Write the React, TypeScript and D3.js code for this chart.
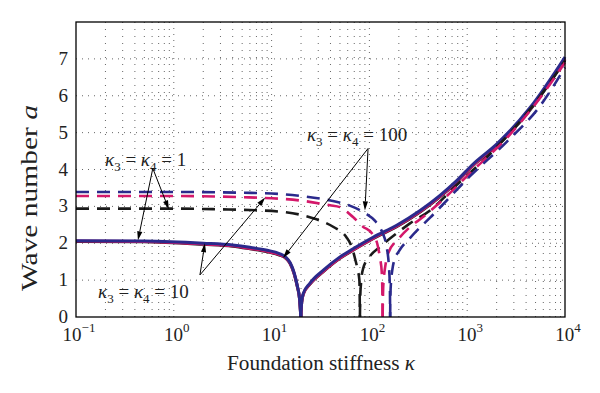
import * as d3 from "d3";

// x ticks (powers of ten) and y ticks
const xTickExps = [-1, 0, 1, 2, 3, 4];
const yTicks = [0, 1, 2, 3, 4, 5, 6, 7];

// solid curves (left branch ends at the cusp, right branch starts there)
const solidLeftK = [0.1, 0.5, 2, 4, 6, 9, 12, 14, 15.5, 17, 18.3, 19.3, 19.9];
const solidBlueLeftA = [2.07, 2.06, 2.0, 1.95, 1.89, 1.81, 1.72, 1.62, 1.47, 1.2, 0.85, 0.5, 0];
const solidMagLeftA = [2.06, 2.05, 1.98, 1.93, 1.86, 1.78, 1.69, 1.6, 1.45, 1.18, 0.84, 0.5, 0];
const solidBlackLeftA = [2.05, 2.04, 1.97, 1.92, 1.85, 1.77, 1.68, 1.59, 1.44, 1.17, 0.83, 0.49, 0];

const solidRightK = [19.9, 20.3, 21.1, 24.7, 33.8, 50, 66, 110, 190, 330, 527, 781, 1150, 2000, 4400, 10000];
const solidBlueRightA = [0, 0.4, 0.64, 0.92, 1.27, 1.63, 1.83, 2.17, 2.49, 2.89, 3.3, 3.7, 4.15, 4.69, 5.68, 7.05];
const solidMagRightA = [0, 0.39, 0.62, 0.9, 1.24, 1.6, 1.8, 2.14, 2.46, 2.86, 3.27, 3.67, 4.12, 4.66, 5.64, 7.0];
const solidBlackRightA = [0, 0.39, 0.62, 0.89, 1.23, 1.59, 1.79, 2.13, 2.45, 2.85, 3.26, 3.66, 4.11, 4.64, 5.62, 6.98];

// dashed, kappa3 = kappa4 = 1 (black)
const blackLeftK = [0.1, 1, 3, 6, 13, 26.5, 43, 58, 66, 72, 76, 79, 80];
const blackLeftA = [2.94, 2.94, 2.92, 2.9, 2.85, 2.68, 2.44, 2.17, 1.9, 1.54, 1.27, 1.0, 0];
const blackRightK = [80, 80.5, 82, 86, 100, 128, 190, 260, 417, 781, 1710, 5130, 10000];
const blackRightA = [0, 0.5, 0.9, 1.3, 1.63, 1.9, 2.27, 2.54, 2.89, 3.58, 4.42, 5.86, 6.95];

// dashed, kappa3 = kappa4 = 10 (magenta)
const magLeftK = [0.1, 1, 5, 10, 19.5, 39.5, 50, 68, 86, 106, 120, 128, 134, 136, 136.5];
const magLeftA = [3.28, 3.28, 3.25, 3.22, 3.16, 3.03, 2.98, 2.71, 2.45, 2.27, 2.0, 1.62, 1.19, 0.5, 0];
const magRightK = [136.5, 138, 141, 145, 155, 200, 260, 353, 488, 1150, 2535, 5130, 10000];
const magRightA = [0, 0.7, 1.1, 1.36, 1.72, 2.13, 2.44, 2.71, 3.03, 3.98, 4.85, 5.82, 6.9];

// dashed, kappa3 = kappa4 = 100 (blue)
const blueLeftK = [0.1, 1, 5, 10, 20, 40, 63, 90, 115, 128, 137, 150, 158, 162, 163];
const blueLeftA = [3.39, 3.39, 3.37, 3.35, 3.28, 3.16, 3.02, 2.82, 2.6, 2.43, 2.27, 1.9, 1.4, 0.8, 0];
const blueRightK = [163, 164, 167, 172, 180, 200, 260, 330, 420, 527, 1069, 2535, 5546, 10000];
const blueRightA = [0, 0.6, 1.0, 1.3, 1.55, 1.78, 2.14, 2.43, 2.7, 2.97, 3.82, 4.75, 5.72, 6.77];

// annotation anchors in data units [kappa, a]
const ann1Label: [number, number] = [0.198, 4.1];
const ann1From: [number, number] = [0.61, 4.03];
const ann1To: [number, number][] = [[0.43, 2.08], [0.89, 2.92]];
const ann10Label: [number, number] = [0.168, 0.51];
const ann10From: [number, number] = [1.85, 1.14];
const ann10To: [number, number][] = [[2.08, 2.0], [8.6, 3.24]];
const ann100Label: [number, number] = [23, 4.76];
const ann100From: [number, number] = [96.9, 4.57];
const ann100To: [number, number][] = [[90, 2.89], [13.1, 1.6]];

const BLUE = "#2b2a8c";
const MAGENTA = "#d4186a";
const BLACK = "#1a1a1a";
const FONT = "'Liberation Serif', 'Times New Roman', serif";

const x = d3.scaleLog().domain([0.1, 10000]).range([76, 565]);
const y = d3.scaleLinear().domain([0, 8]).range([317, 22]);

const line = d3
  .line<[number, number]>()
  .x((d) => x(d[0]))
  .y((d) => y(d[1]))
  .curve(d3.curveMonotoneX);

const zip = (k: number[], a: number[]) => k.map((v, i) => [v, a[i]] as [number, number]);

function Kappa({ value }: { value: string }) {
  return (
    <>
      <tspan fontStyle="italic">κ</tspan>
      <tspan fontSize={13} dy={5}>3</tspan>
      <tspan dy={-5}> = </tspan>
      <tspan fontStyle="italic">κ</tspan>
      <tspan fontSize={13} dy={5}>4</tspan>
      <tspan dy={-5}> = {value}</tspan>
    </>
  );
}

function Arrow({ from, to }: { from: [number, number]; to: [number, number] }) {
  const x1 = x(from[0]), y1 = y(from[1]);
  const x2 = x(to[0]), y2 = y(to[1]);
  const ang = Math.atan2(y2 - y1, x2 - x1);
  const L = 9, W = 2.6;
  const bx = x2 - L * Math.cos(ang), by = y2 - L * Math.sin(ang);
  const px = -Math.sin(ang) * W, py = Math.cos(ang) * W;
  return (
    <g>
      <line x1={x1} y1={y1} x2={bx} y2={by} stroke="#000" strokeWidth={1} />
      <path d={`M${x2},${y2}L${bx + px},${by + py}L${bx - px},${by - py}Z`} fill="#000" />
    </g>
  );
}

export default function App() {
  const minor: number[] = [];
  for (let e = -1; e < 4; e++) for (let m = 2; m <= 9; m++) minor.push(m * Math.pow(10, e));

  const solids = [
    { k: [solidLeftK, solidRightK], a: [solidBlackLeftA, solidBlackRightA], c: BLACK },
    { k: [solidLeftK, solidRightK], a: [solidMagLeftA, solidMagRightA], c: MAGENTA },
    { k: [solidLeftK, solidRightK], a: [solidBlueLeftA, solidBlueRightA], c: BLUE },
  ];
  const dashed = [
    { k: [blackLeftK, blackRightK], a: [blackLeftA, blackRightA], c: BLACK },
    { k: [magLeftK, magRightK], a: [magLeftA, magRightA], c: MAGENTA },
    { k: [blueLeftK, blueRightK], a: [blueLeftA, blueRightA], c: BLUE },
  ];

  return (
    <svg width={600} height={393} style={{ position: "absolute", left: 0, top: 0, background: "#fff" }} fontFamily={FONT}>
      <rect width={600} height={393} fill="#fff" />
      {/* grid */}
      <g stroke="#666" strokeWidth={1} strokeDasharray="1,5">
        {xTickExps.slice(1, -1).map((e) => (
          <line key={"xg" + e} x1={x(Math.pow(10, e))} x2={x(Math.pow(10, e))} y1={y(8)} y2={y(0)} />
        ))}
        {minor.map((m, i) => (
          <line key={"xm" + i} x1={x(m)} x2={x(m)} y1={y(8)} y2={y(0)} strokeDasharray="1,6" />
        ))}
        {yTicks.slice(1).map((t) => (
          <line key={"yg" + t} x1={x(0.1)} x2={x(10000)} y1={y(t)} y2={y(t)} />
        ))}
      </g>

      {/* curves */}
      {solids.map((s, i) => (
        <g key={"s" + i} fill="none" stroke={s.c} strokeWidth={3}>
          <path d={line(zip(s.k[0], s.a[0])) || ""} />
          <path d={line(zip(s.k[1], s.a[1])) || ""} />
        </g>
      ))}
      {dashed.map((s, i) => (
        <g key={"d" + i} fill="none" stroke={s.c} strokeWidth={2.6} strokeDasharray="13,8">
          <path d={line(zip(s.k[0], s.a[0])) || ""} />
          <path d={line(zip(s.k[1], s.a[1])) || ""} />
        </g>
      ))}

      {/* axes box */}
      <rect x={x(0.1)} y={y(8)} width={x(10000) - x(0.1)} height={y(0) - y(8)} fill="none" stroke="#000" strokeWidth={1.3} />

      {/* tick labels */}
      <g fontSize={19} fill="#222">
        {yTicks.map((t) => (
          <text key={"yt" + t} x={68} y={y(t) + 6} textAnchor="end">{t}</text>
        ))}
        {xTickExps.map((e) => (
          <text key={"xt" + e} x={x(Math.pow(10, e)) + 3} y={341} textAnchor="middle">
            10<tspan fontSize={13} dy={-9}>{e < 0 ? "−" + -e : e}</tspan>
          </text>
        ))}
      </g>

      {/* axis titles */}
      <text x={321} y={370} fontSize={20} textAnchor="middle" fill="#222" textLength={188} lengthAdjust="spacingAndGlyphs">
        Foundation stiffness <tspan fontStyle="italic">κ</tspan>
      </text>
      <text transform="translate(37,198) rotate(-90)" fontSize={23} textAnchor="middle" fill="#222" textLength={186} lengthAdjust="spacingAndGlyphs">
        Wave number <tspan fontStyle="italic">a</tspan>
      </text>

      {/* annotations */}
      <g fontSize={19} fill="#222">
        <text x={x(ann1Label[0])} y={y(ann1Label[1])}><Kappa value="1" /></text>
        <text x={x(ann10Label[0])} y={y(ann10Label[1])}><Kappa value="10" /></text>
        <text x={x(ann100Label[0])} y={y(ann100Label[1])}><Kappa value="100" /></text>
      </g>
      {ann1To.map((t, i) => <Arrow key={"a1" + i} from={ann1From} to={t} />)}
      {ann10To.map((t, i) => <Arrow key={"a10" + i} from={ann10From} to={t} />)}
      {ann100To.map((t, i) => <Arrow key={"a100" + i} from={ann100From} to={t} />)}
    </svg>
  );
}
